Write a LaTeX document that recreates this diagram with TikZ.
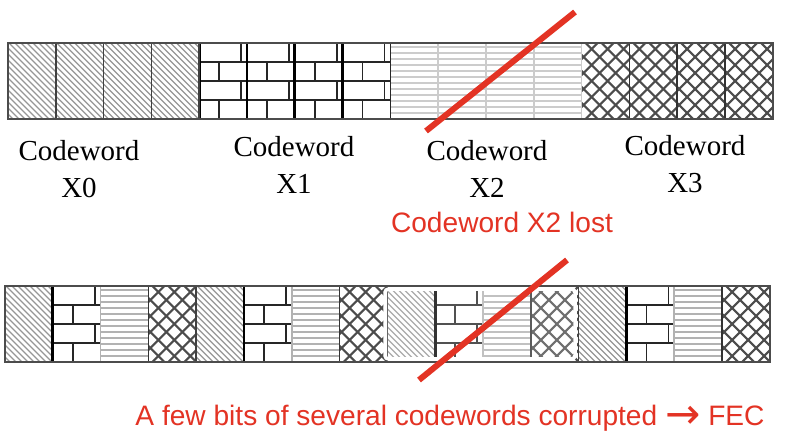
\documentclass[tikz,border=0pt]{standalone}
\usepackage{fontspec}
\setmainfont{Liberation Serif}
\newfontfamily\notefont{Liberation Sans}
\newfontfamily\arrowfont{DejaVu Sans}
\usepackage{tikz}
\definecolor{lossRed}{rgb}{0.89, 0.20, 0.14}
\definecolor{hatchGray}{rgb}{0.45, 0.45, 0.45}

% one 47.8 x 76 cell of each fill, #1 = left x, #2 = top y
\newcommand{\diagcell}[2]{%
  \begin{scope}
    \clip (#1,#2) rectangle ++(47.8,76);
    \foreach \k in {-77,-71,...,48}
      \draw[hatchGray!75, line width=0.7pt] ({#1+\k},#2) -- ++(76,76);
  \end{scope}
  \draw[black!75, line width=0.9pt] (#1,#2) rectangle ++(47.8,76);
}
\newcommand{\brickcell}[2]{%
  \draw[black!85, line width=0.9pt] (#1,#2) rectangle ++(47.8,76);
  \foreach \r in {1,2,3}
    \draw[black!85, line width=0.9pt] (#1,{#2+19*\r}) -- ++(47.8,0);
  \foreach \r in {0,2}
    \draw[black!85, line width=0.9pt] ({#1+42},{#2+19*\r}) -- ++(0,19);
  \foreach \r in {1,3}
    \draw[black!85, line width=0.9pt] ({#1+20},{#2+19*\r}) -- ++(0,19);
  \draw[black, line width=1.6pt] (#1,#2) -- ++(0,76);
}
\newcommand{\stripecell}[3]{%
  \foreach \k in {4,10,...,75}
    \draw[#3, line width=0.8pt] (#1,{#2+\k}) -- ++(47.8,0);
  \draw[#3, line width=0.9pt] (#1,#2) rectangle ++(47.8,76);
}
\newcommand{\crosscell}[2]{%
  \begin{scope}
    \clip (#1,#2) rectangle ++(47.8,76);
    \foreach \k in {-76,-60,...,48} {
      \draw[black!70, line width=1.2pt] ({#1+\k},#2) -- ++(76,76);
      \draw[black!70, line width=1.2pt] ({#1+\k+76},#2) -- ++(-76,76);
    }
  \end{scope}
  \draw[black!80, line width=0.9pt] (#1,#2) rectangle ++(47.8,76);
}

\begin{document}
\begin{tikzpicture}[x=0.02cm, y=-0.02cm, line cap=butt]
  \useasboundingbox[fill=white] (0,0) rectangle (786,442);

  % codewords sent one after the other
  \foreach \c in {0,...,3} {
    \pgfmathsetmacro\xa{8+47.8*\c}
    \pgfmathsetmacro\xb{8+47.8*(4+\c)}
    \pgfmathsetmacro\xc{8+47.8*(8+\c)}
    \pgfmathsetmacro\xd{8+47.8*(12+\c)}
    \diagcell{\xa}{43}
    \brickcell{\xb}{43}
    \stripecell{\xc}{43}{gray!40}
    \crosscell{\xd}{43}
  }
  \draw[black!70, line width=1.2pt] (8,43) rectangle (772.8,119);

  \node[font=\fontsize{16.5}{21}\selectfont, align=center] (cw0) at (79,169) {Codeword\\X0};
  \node[font=\fontsize{16.5}{21}\selectfont, align=center] (cw1) at (294,165) {Codeword\\X1};
  \node[font=\fontsize{16.5}{21}\selectfont, align=center] (cw2) at (487,169) {Codeword\\X2};
  \node[font=\fontsize{16.5}{21}\selectfont, align=center] (cw3) at (685,164) {Codeword\\X3};

  % codewords interleaved
  \foreach \g in {0,...,3} {
    \pgfmathsetmacro\xa{5+47.8*(4*\g)}
    \pgfmathsetmacro\xb{5+47.8*(4*\g+1)}
    \pgfmathsetmacro\xc{5+47.8*(4*\g+2)}
    \pgfmathsetmacro\xd{5+47.8*(4*\g+3)}
    \diagcell{\xa}{286}
    \brickcell{\xb}{286}
    \stripecell{\xc}{286}{gray!60}
    \crosscell{\xd}{286}
  }
  \draw[black!70, line width=1.2pt] (5,286) rectangle (769.8,362);
  \draw[white, fill=white, fill opacity=0.2, line width=2pt, rounded corners=2pt] (385,289) rectangle (575,359);

  \coordinate (lostA) at (575,12);
  \coordinate (lostB) at (426,131);
  \coordinate (hitA) at (567,260);
  \coordinate (hitB) at (419,380);
  \draw[lossRed, line width=0.12cm] (lostA) -- (lostB);
  \draw[lossRed, line width=0.12cm] (hitA) -- (hitB);

  \node[lossRed, font=\notefont\fontsize{16}{19}\selectfont] (lostNote) at (502,222) {Codeword X2 lost};
  \node[lossRed, font=\notefont\fontsize{16}{19}\selectfont] (fecNote) at (450,418) {A few bits of several codewords corrupted \smash{\raisebox{-2pt}{\arrowfont\fontsize{24}{24}\selectfont →}} FEC};
\end{tikzpicture}
\end{document}
